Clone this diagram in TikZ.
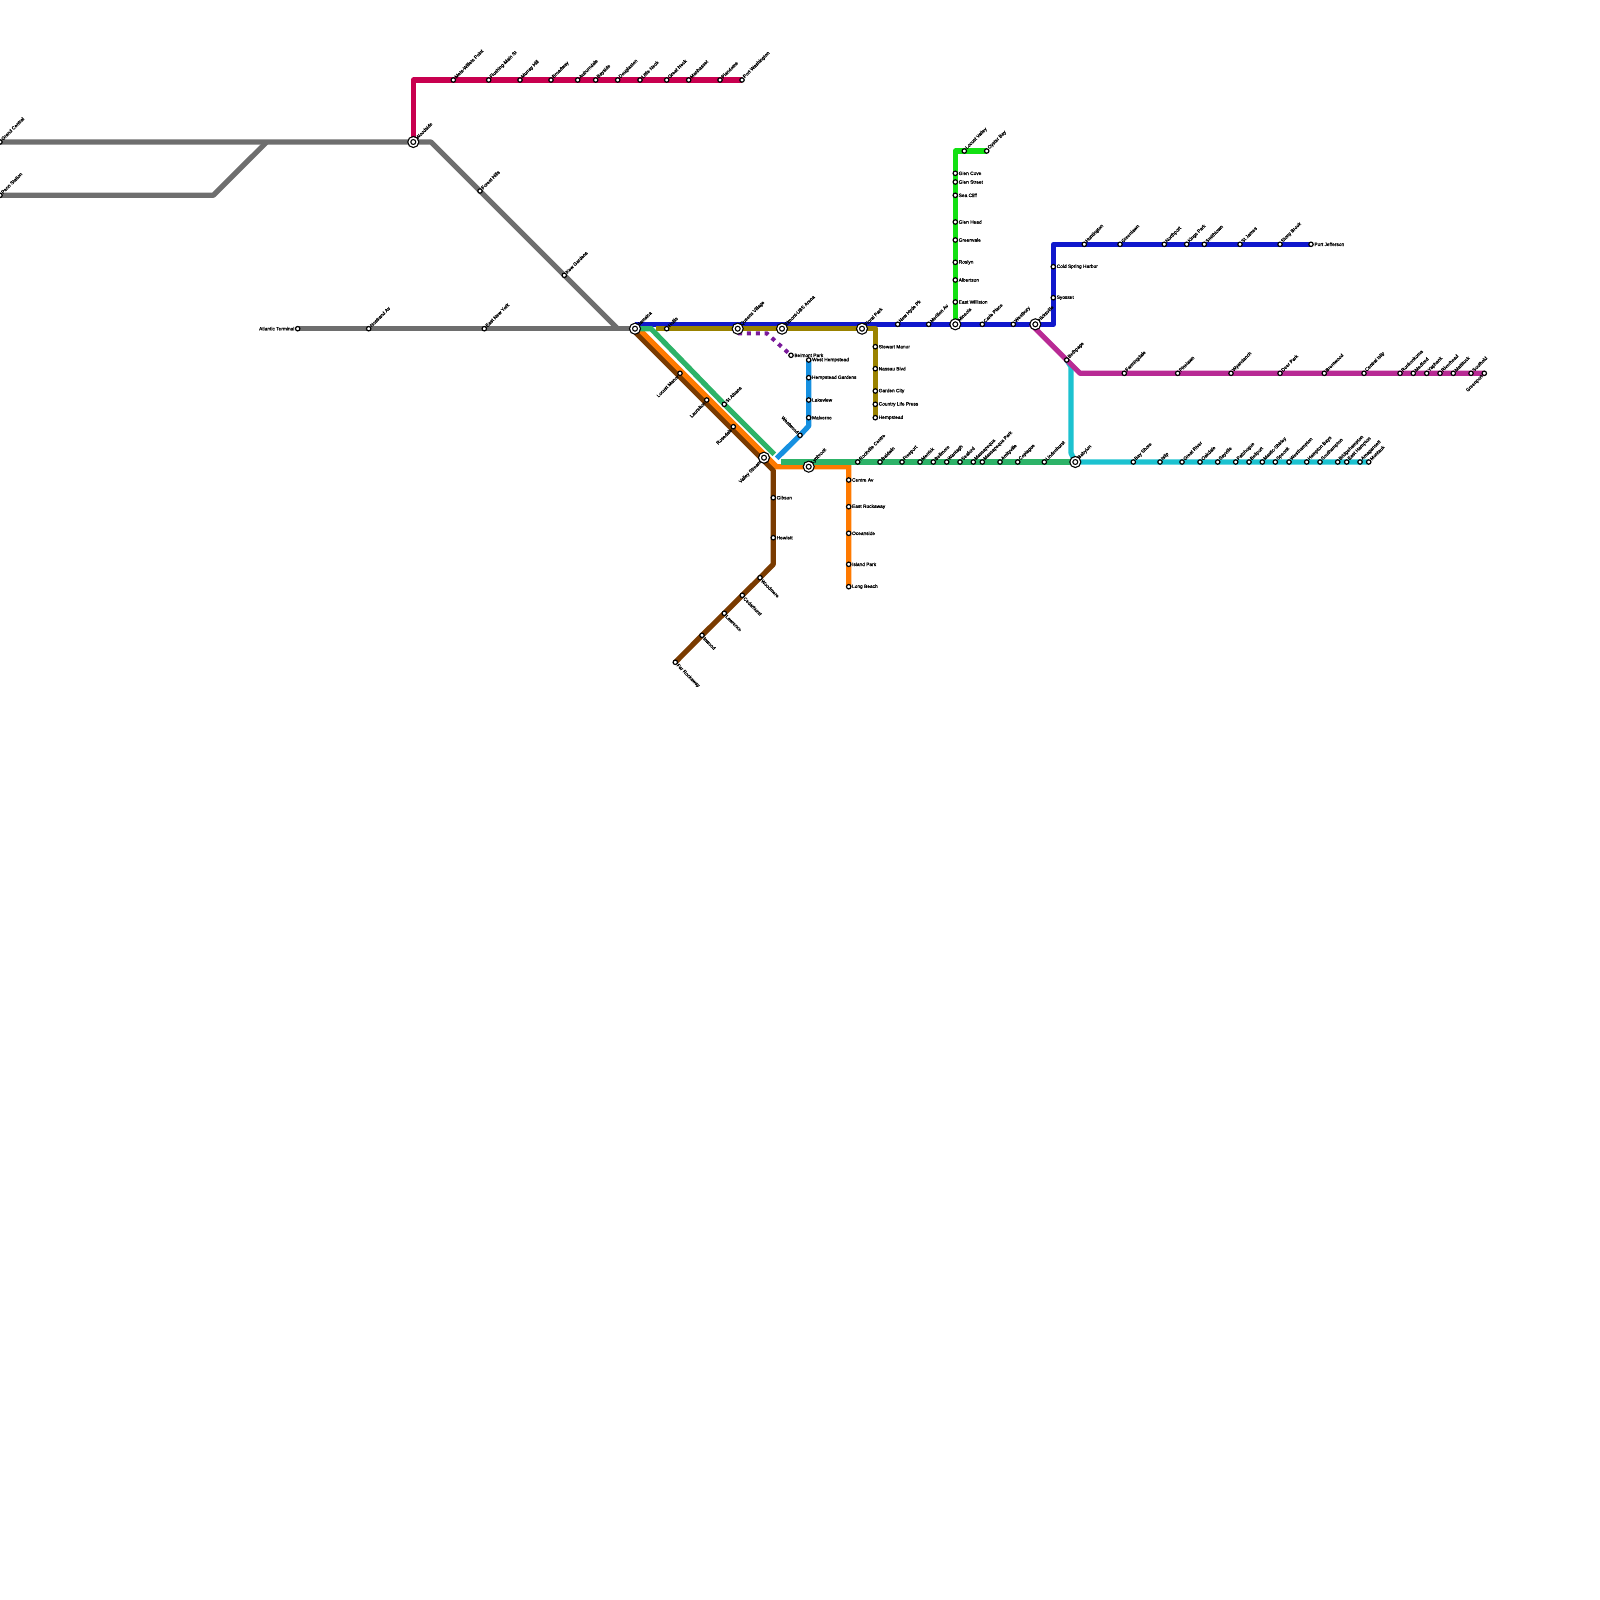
\documentclass[tikz,border=0pt]{standalone}
\usepackage{fontspec}
\setmainfont{Liberation Sans}
\newfontfamily\lblfont[FakeBold=0.6]{Liberation Sans}
\usetikzlibrary{backgrounds}
\definecolor{cgray}{HTML}{6E6E6E}
\definecolor{ccrimson}{HTML}{C8004F}
\definecolor{cblue}{HTML}{1018CC}
\definecolor{colive}{HTML}{9A8200}
\definecolor{cgreen}{HTML}{2DB368}
\definecolor{corange}{HTML}{FF7A00}
\definecolor{cbrown}{HTML}{7A3B00}
\definecolor{csky}{HTML}{1690E0}
\definecolor{clime}{HTML}{12E012}
\definecolor{cmagenta}{HTML}{B82A94}
\definecolor{ccyan}{HTML}{1CC2D0}
\definecolor{cpurple}{HTML}{7A1A9A}
\begin{document}
\begin{tikzpicture}[
    x=0.5pt, y=-0.5pt,
    label distance=0.3pt,
    stn/.style={circle, draw=black, fill=white, line width=0.6pt, inner sep=0pt, minimum size=2.2pt},
    hub/.style={circle, draw=black, fill=white, line width=0.6pt, double=white, double distance=0.75pt,
        inner sep=0pt, minimum size=4pt},
    lbl/.style={font=\lblfont\fontsize{2.4pt}{3pt}\selectfont, inner sep=0pt, outer sep=0pt},
    labne/.style={label={[lbl, rotate=45, anchor=west]45:#1}},
    labse/.style={label={[lbl, rotate=-45, anchor=west]-45:#1}},
    labsw/.style={label={[lbl, rotate=45, anchor=east]225:#1}},
    labnw/.style={label={[lbl, rotate=-45, anchor=east]135:#1}},
    labe/.style={label={[lbl, anchor=west]0:#1}},
    labw/.style={label={[lbl, anchor=east]180:#1}},
    ln/.style={line width=2.6pt, line join=round},
]
\useasboundingbox (0,0) rectangle (1600,1600);

\node[stn, labne=Grand Central] (grandcentral) at (0,142) {};
\node[stn, labne=Penn Station] (penn) at (0,195.3) {};
\node[hub, labne=Woodside] (woodside) at (413.3,142) {};
\node[stn, labne=Forest Hills] (foresthills) at (480,191) {};
\node[stn, labne=Kew Gardens] (kewgardens) at (564.3,275.3) {};
\node[stn, labw=Atlantic Terminal] (atlantic) at (297.7,328.7) {};
\node[stn, labne=Nostrand Av] (nostrand) at (368.7,328.7) {};
\node[stn, labne=East New York] (eastny) at (484.3,328.7) {};
\node[hub, labne=Jamaica] (jamaica) at (635,328.7) {};

\node[stn, labne=Mets-Willets Point] (mets) at (453.3,80) {};
\node[stn, labne=Flushing-Main St] (flushing) at (488.7,80) {};
\node[stn, labne=Murray Hill] (murray) at (520,80) {};
\node[stn, labne=Broadway] (broadway) at (551,80) {};
\node[stn, labne=Auburndale] (auburndale) at (577.7,80) {};
\node[stn, labne=Bayside] (bayside) at (595.7,80) {};
\node[stn, labne=Douglaston] (douglaston) at (617.7,80) {};
\node[stn, labne=Little Neck] (littleneck) at (640,80) {};
\node[stn, labne=Great Neck] (greatneck) at (666.7,80) {};
\node[stn, labne=Manhasset] (manhasset) at (688.7,80) {};
\node[stn, labne=Plandome] (plandome) at (720,80) {};
\node[stn, labne=Port Washington] (portwash) at (742,80) {};

\node[stn, labne=Hollis] (hollis) at (666.7,328.7) {};
\node[hub, labne=Queens Village] (queens) at (737.7,328.7) {};
\node[hub, labne=Elmont-UBS Arena] (elmont) at (782,328.7) {};
\node[hub, labne=Floral Park] (floral) at (862,328.7) {};
\node[stn, labe=Stewart Manor] (stewart) at (875.3,346.7) {};
\node[stn, labe=Nassau Blvd] (nassau) at (875.3,368.7) {};
\node[stn, labe=Garden City] (garden) at (875.3,391) {};
\node[stn, labe=Country Life Press] (country) at (875.3,404.3) {};
\node[stn, labe=Hempstead] (hempstead) at (875.3,417.7) {};
\node[stn, labe=Belmont Park] (belmont) at (791,355.3) {};

\node[stn, labne=New Hyde Pk] (newhyde) at (897.7,324.3) {};
\node[stn, labne=Merillon Av] (merillon) at (928.7,324.3) {};
\node[hub, labne=Mineola] (mineola) at (955.3,324.3) {};
\node[stn, labne=Carle Place] (carle) at (982.3,324.3) {};
\node[stn, labne=Westbury] (westbury) at (1013.3,324.3) {};
\node[hub, labne=Hicksville] (hicksville) at (1035.3,324.3) {};
\node[stn, labe=Syosset] (syosset) at (1053.3,297.7) {};
\node[stn, labe=Cold Spring Harbor] (coldspring) at (1053.3,266.7) {};
\node[stn, labne=Huntington] (huntington) at (1084.3,244.3) {};
\node[stn, labne=Greenlawn] (greenlawn) at (1120,244.3) {};
\node[stn, labne=Northport] (northport) at (1164.3,244.3) {};
\node[stn, labne=Kings Park] (kingspark) at (1186.7,244.3) {};
\node[stn, labne=Smithtown] (smithtown) at (1204.3,244.3) {};
\node[stn, labne=St James] (stjames) at (1240,244.3) {};
\node[stn, labne=Stony Brook] (stonybrook) at (1280,244.3) {};
\node[stn, labe=Port Jefferson] (portjeff) at (1311,244.3) {};

\node[stn, labe=East Williston] (williston) at (955.3,302) {};
\node[stn, labe=Albertson] (albertson) at (955.3,280) {};
\node[stn, labe=Roslyn] (roslyn) at (955.3,262.3) {};
\node[stn, labe=Greenvale] (greenvale) at (955.3,240) {};
\node[stn, labe=Glen Head] (glenhead) at (955.3,222) {};
\node[stn, labe=Sea Cliff] (seacliff) at (955.3,195.3) {};
\node[stn, labe=Glen Street] (glenstreet) at (955.3,182) {};
\node[stn, labe=Glen Cove] (glencove) at (955.3,173.3) {};
\node[stn, labne=Locust Valley] (locustvalley) at (964.3,151) {};
\node[stn, labne=Oyster Bay] (oysterbay) at (986.7,151) {};

\node[stn, labsw=Locust Manor] (locustmanor) at (680,373.3) {};
\node[stn, labsw=Laurelton] (laurelton) at (706.7,400) {};
\node[stn, labsw=Rosedale] (rosedale) at (733.3,426.7) {};
\node[stn, labne=St Albans] (stalbans) at (724.3,404.3) {};
\node[hub, labsw=Valley Stream] (valley) at (764,457.7) {};
\node[hub, labne=Lynbrook] (lynbrook) at (808.7,466.7) {};

\node[stn, labe=West Hempstead] (westhemp) at (808.7,360) {};
\node[stn, labe=Hempstead Gardens] (hempgardens) at (808.7,377.7) {};
\node[stn, labe=Lakeview] (lakeview) at (808.7,400) {};
\node[stn, labe=Malverne] (malverne) at (808.7,417.7) {};
\node[stn, labnw=Westwood] (westwood) at (800,435.3) {};

\node[stn, labe=Gibson] (gibson) at (773.3,497.7) {};
\node[stn, labe=Hewlett] (hewlett) at (773.3,537.7) {};
\node[stn, labse=Woodmere] (woodmere) at (760,577.7) {};
\node[stn, labse=Cedarhurst] (cedarhurst) at (742.3,595.3) {};
\node[stn, labse=Lawrence] (lawrence) at (724.3,613.3) {};
\node[stn, labse=Inwood] (inwood) at (702,635.3) {};
\node[stn, labse=Far Rockaway] (farrock) at (675.3,662.3) {};

\node[stn, labe=Centre Av] (centre) at (848.7,480) {};
\node[stn, labe=East Rockaway] (eastrock) at (848.7,506.7) {};
\node[stn, labe=Oceanside] (oceanside) at (848.7,533.3) {};
\node[stn, labe=Island Park] (island) at (848.7,564.3) {};
\node[stn, labe=Long Beach] (longbeach) at (848.7,586.7) {};

\node[stn, labne=Rockville Centre] (rockville) at (857.7,462) {};
\node[stn, labne=Baldwin] (baldwin) at (880,462) {};
\node[stn, labne=Freeport] (freeport) at (902,462) {};
\node[stn, labne=Merrick] (merrick) at (920,462) {};
\node[stn, labne=Bellmore] (bellmore) at (933.3,462) {};
\node[stn, labne=Wantagh] (wantagh) at (946.7,462) {};
\node[stn, labne=Seaford] (seaford) at (960,462) {};
\node[stn, labne=Massapequa] (massapequa) at (973.3,462) {};
\node[stn, labne=Massapequa Park] (masspark) at (982.3,462) {};
\node[stn, labne=Amityville] (amityville) at (1000,462) {};
\node[stn, labne=Copiague] (copiague) at (1017.7,462) {};
\node[stn, labne=Lindenhurst] (lindenhurst) at (1044.3,462) {};
\node[hub, labne=Babylon] (babylon) at (1075.3,462) {};

\node[stn, labne=Bay Shore] (bayshore) at (1133.3,462) {};
\node[stn, labne=Islip] (islip) at (1160,462) {};
\node[stn, labne=Great River] (greatriver) at (1182,462) {};
\node[stn, labne=Oakdale] (oakdale) at (1200,462) {};
\node[stn, labne=Sayville] (sayville) at (1217.7,462) {};
\node[stn, labne=Patchogue] (patchogue) at (1235.7,462) {};
\node[stn, labne=Bellport] (bellport) at (1249,462) {};
\node[stn, labne=Mastic-Shirley] (mastic) at (1262.3,462) {};
\node[stn, labne=Speonk] (speonk) at (1275.3,462) {};
\node[stn, labne=Westhampton] (westhampton) at (1289,462) {};
\node[stn, labne=Hampton Bays] (hamptonbays) at (1306.7,462) {};
\node[stn, labne=Southampton] (southampton) at (1320,462) {};
\node[stn, labne=Bridgehampton] (bridgehampton) at (1337.7,462) {};
\node[stn, labne=East Hampton] (easthampton) at (1346.7,462) {};
\node[stn, labne=Amagansett] (amagansett) at (1360,462) {};
\node[stn, labne=Montauk] (montauk) at (1368.7,462) {};

\node[stn, labne=Bethpage] (bethpage) at (1066.7,360) {};
\node[stn, labne=Farmingdale] (farmingdale) at (1124.3,373.3) {};
\node[stn, labne=Pinelawn] (pinelawn) at (1177.7,373.3) {};
\node[stn, labne=Wyandanch] (wyandanch) at (1231,373.3) {};
\node[stn, labne=Deer Park] (deerpark) at (1280,373.3) {};
\node[stn, labne=Brentwood] (brentwood) at (1324.3,373.3) {};
\node[stn, labne=Central Islip] (centralislip) at (1364,373.3) {};
\node[stn, labne=Ronkonkoma] (ronkonkoma) at (1400,373.3) {};
\node[stn, labne=Medford] (medford) at (1413.3,373.3) {};
\node[stn, labne=Yaphank] (yaphank) at (1426.7,373.3) {};
\node[stn, labne=Riverhead] (riverhead) at (1440,373.3) {};
\node[stn, labne=Mattituck] (mattituck) at (1453.3,373.3) {};
\node[stn, labne=Southold] (southold) at (1471,373.3) {};
\node[stn, labsw=Greenport] (greenport) at (1484.3,373.3) {};

\coordinate (graytop) at (266.7,142);
\coordinate (grayturn) at (431,142);
\coordinate (graymerge) at (617.7,328.7);
\coordinate (pennbend) at (213.3,195.3);
\coordinate (crimsonbend) at (413.3,80);
\coordinate (bluestart) at (635,324.3);
\coordinate (bluebend) at (1053.3,324.3);
\coordinate (bluetop) at (1053.3,244.3);
\coordinate (limebend) at (955.3,151);
\coordinate (olivestart) at (656,328.7);
\coordinate (olivebend) at (875.3,328.7);
\coordinate (greenbend) at (651,328.7);
\coordinate (greenend) at (774.3,454.3);
\coordinate (greenstart) at (781,462);
\coordinate (orangetop) at (641,331);
\coordinate (orangebend) at (776.7,466.7);
\coordinate (orangecorner) at (848.7,466.7);
\coordinate (browntop) at (636,333);
\coordinate (brownbend) at (773.3,470.3);
\coordinate (brownlow) at (773.3,564.3);
\coordinate (skybend) at (808.7,426);
\coordinate (skyend) at (776.7,458.3);
\coordinate (purplestart) at (738,333.3);
\coordinate (purplebend) at (766.7,333.3);
\coordinate (magentastart) at (1031,324.3);
\coordinate (magentabend) at (1080,373.3);
\coordinate (cyantop) at (1071,366.7);
\coordinate (cyanlow) at (1071,453);

\begin{scope}[on background layer]
\draw[ln, draw=cgray] (grandcentral.center) -- (woodside.center) -- (grayturn) -- (foresthills.center) -- (kewgardens.center) -- (graymerge);
\draw[ln, draw=cgray] (penn.center) -- (pennbend) -- (graytop);
\draw[ln, draw=cgray] (atlantic.center) -- (nostrand.center) -- (eastny.center) -- (jamaica.center);
\draw[ln, draw=ccrimson] (woodside.center) -- (crimsonbend) -- (mets.center) -- (flushing.center) -- (murray.center) -- (broadway.center) -- (auburndale.center) -- (bayside.center) -- (douglaston.center) -- (littleneck.center) -- (greatneck.center) -- (manhasset.center) -- (plandome.center) -- (portwash.center);
\draw[ln, draw=cblue] (bluestart) -- (newhyde.center) -- (merillon.center) -- (mineola.center) -- (carle.center) -- (westbury.center) -- (hicksville.center) -- (bluebend) -- (syosset.center) -- (coldspring.center) -- (bluetop) -- (huntington.center) -- (greenlawn.center) -- (northport.center) -- (kingspark.center) -- (smithtown.center) -- (stjames.center) -- (stonybrook.center) -- (portjeff.center);
\draw[ln, draw=clime] (mineola.center) -- (williston.center) -- (albertson.center) -- (roslyn.center) -- (greenvale.center) -- (glenhead.center) -- (seacliff.center) -- (glenstreet.center) -- (glencove.center) -- (limebend) -- (locustvalley.center) -- (oysterbay.center);
\draw[ln, draw=colive] (olivestart) -- (hollis.center) -- (queens.center) -- (elmont.center) -- (floral.center) -- (olivebend) -- (stewart.center) -- (nassau.center) -- (garden.center) -- (country.center) -- (hempstead.center);
\draw[ln, draw=cbrown] (jamaica.center) -- (browntop) -- (brownbend) -- (gibson.center) -- (hewlett.center) -- (brownlow) -- (woodmere.center) -- (cedarhurst.center) -- (lawrence.center) -- (inwood.center) -- (farrock.center);
\draw[ln, draw=corange, line join=miter] (jamaica.center) -- (orangetop) -- (orangebend) -- (lynbrook.center) -- (orangecorner) -- (centre.center) -- (eastrock.center) -- (oceanside.center) -- (island.center) -- (longbeach.center);
\draw[ln, draw=cgreen, line join=miter] (jamaica.center) -- (greenbend) -- (stalbans.center) -- (greenend);
\draw[ln, draw=cgreen] (greenstart) -- (rockville.center) -- (baldwin.center) -- (freeport.center) -- (merrick.center) -- (bellmore.center) -- (wantagh.center) -- (seaford.center) -- (massapequa.center) -- (masspark.center) -- (amityville.center) -- (copiague.center) -- (lindenhurst.center) -- (babylon.center);
\draw[ln, draw=csky] (westhemp.center) -- (hempgardens.center) -- (lakeview.center) -- (malverne.center) -- (skybend) -- (westwood.center) -- (skyend);
\draw[ln, draw=ccyan] (bethpage.center) -- (cyantop) -- (cyanlow) -- (babylon.center) -- (bayshore.center) -- (islip.center) -- (greatriver.center) -- (oakdale.center) -- (sayville.center) -- (patchogue.center) -- (bellport.center) -- (mastic.center) -- (speonk.center) -- (westhampton.center) -- (hamptonbays.center) -- (southampton.center) -- (bridgehampton.center) -- (easthampton.center) -- (amagansett.center) -- (montauk.center);
\draw[ln, draw=cmagenta] (magentastart) -- (bethpage.center) -- (magentabend) -- (farmingdale.center) -- (pinelawn.center) -- (wyandanch.center) -- (deerpark.center) -- (brentwood.center) -- (centralislip.center) -- (ronkonkoma.center) -- (medford.center) -- (yaphank.center) -- (riverhead.center) -- (mattituck.center) -- (southold.center) -- (greenport.center);
\draw[draw=cpurple, line width=2pt, dash pattern=on 2pt off 2.45pt] (purplestart) -- (purplebend) -- (belmont.center);
\end{scope}
\end{tikzpicture}
\end{document}
